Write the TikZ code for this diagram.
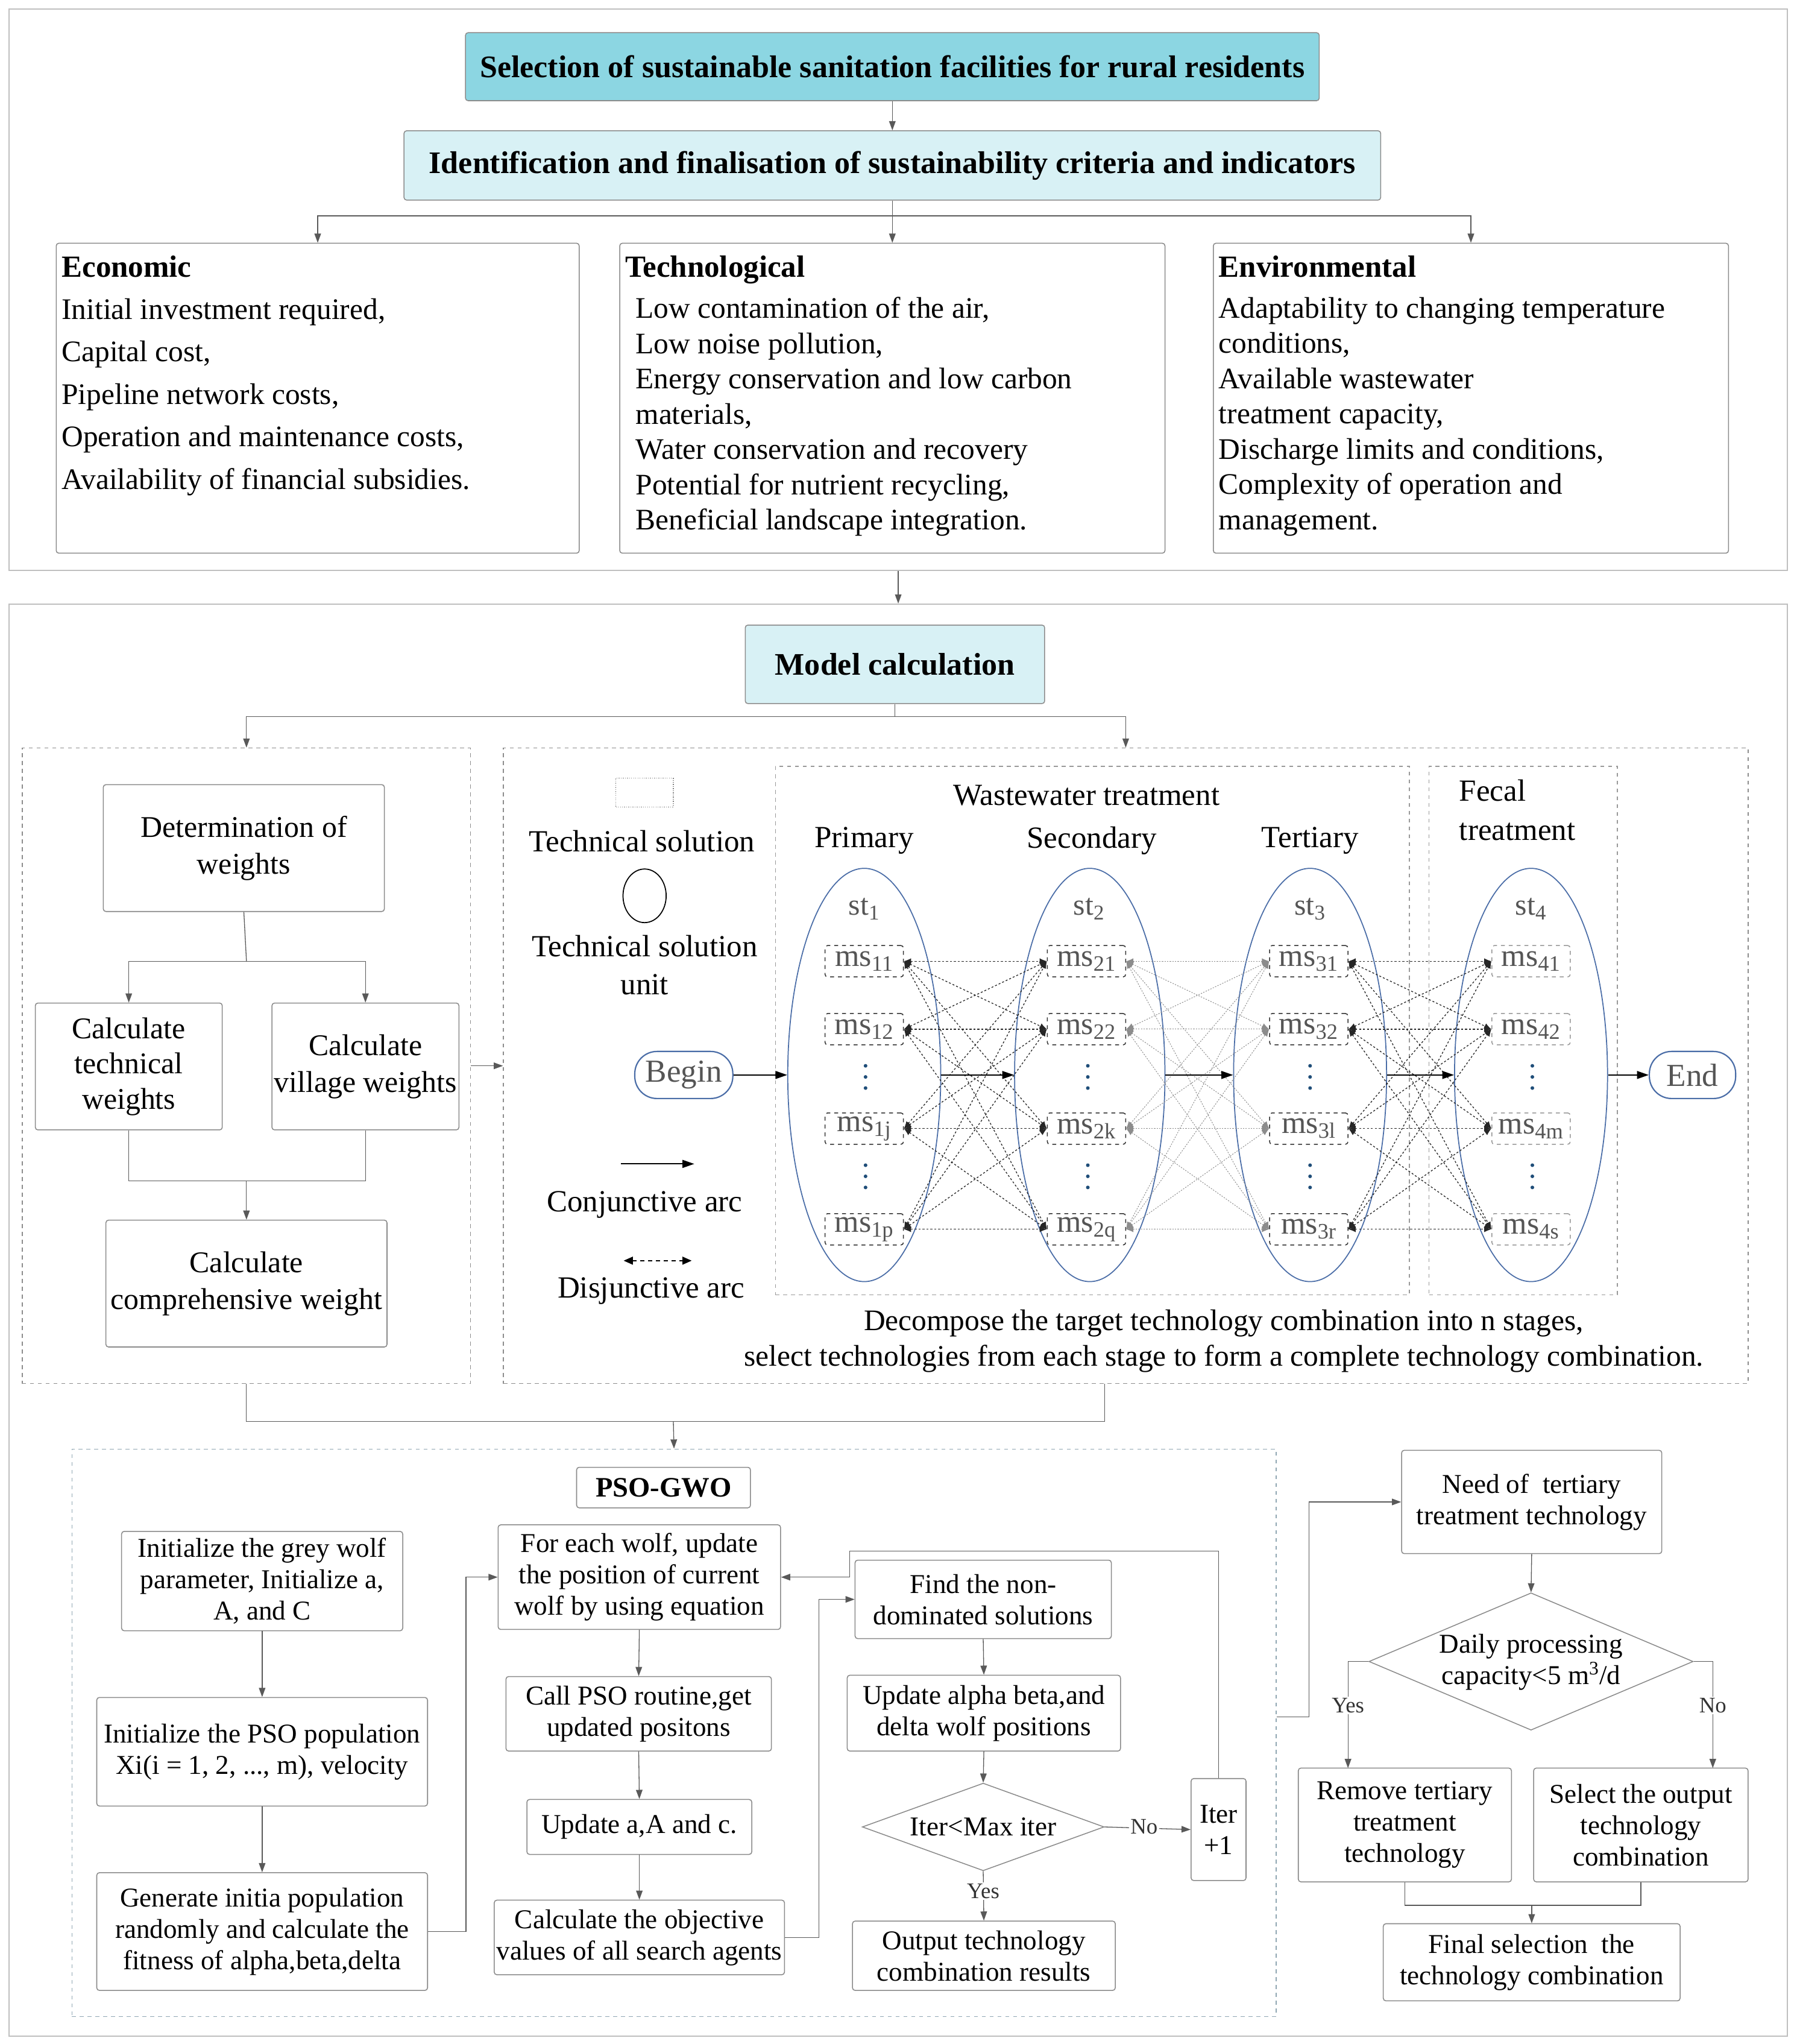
\documentclass[tikz,border=0pt]{standalone}
\usepackage{fontspec}
\setmainfont{Liberation Serif}
\usetikzlibrary{arrows.meta,shapes.geometric,calc}
\definecolor{teal1}{HTML}{8CD6E2}
\definecolor{cyan1}{HTML}{D8F1F5}
\definecolor{bord}{HTML}{8A8A8A}
\definecolor{ellc}{HTML}{4A6DA7}
\definecolor{dotc}{HTML}{1F4E79}
\definecolor{txtg}{HTML}{555555}
\definecolor{psoc}{HTML}{8FA6B2}
\newcommand\fsz[2]{\fontsize{#1pt}{#2pt}\selectfont}
\begin{document}
\begin{tikzpicture}[x=1pt,y=-1pt,
  arr/.style={-{Triangle[length=7pt,width=5pt]}, draw=black!65, line width=0.6pt},
  ln/.style={draw=black!65, line width=0.6pt},
  conj/.style={-{Triangle[length=9pt,width=6pt]}, draw=black, line width=1pt},
  box/.style={draw=bord, rounded corners=2pt, line width=0.7pt, align=center, inner sep=0pt, fill=white},
  panel/.style={draw=black!25, line width=1pt, inner sep=0pt},
  dbox/.style={draw=black!45, dashed, line width=0.6pt, inner sep=0pt},
  msbox/.style={dashed, rounded corners=2pt, line width=0.7pt, inner sep=0pt, minimum width=60, minimum height=24, text=txtg, font=\fsz{24}{26}},
  disj/.style={{Latex[length=5.5pt,width=4.5pt]}-{Latex[length=5.5pt,width=4.5pt]}, line width=0.6pt, dash pattern=on 1.5pt off 1.5pt},
  pill/.style={draw=ellc, line width=1pt, rounded corners=17pt, inner sep=0pt, text=txtg, font=\fsz{24.5}{26}},
  stell/.style={ellipse, draw=ellc, line width=0.8pt, inner sep=0pt, minimum width=117, minimum height=316},
  lbl/.style={fill=white, inner sep=1pt, font=\fsz{17}{18}, text=black!80},
  tx/.style={inner sep=0pt, align=center}]
\useasboundingbox (0,0) rectangle (1374,1563);
\fill[white] (0,0) rectangle (1374,1563);

% ---------- panels ----------
\node[panel, minimum width=1360, minimum height=429] (P1) at (687,221.5) {};
\node[panel, minimum width=1360, minimum height=1095] (P2) at (687,1009.5) {};
\draw[arr] (P1.south) -- (P2.north);

% ---------- top ----------
\node[box, fill=teal1, draw=black!45, font=\bfseries\fsz{24}{28}, minimum width=653, minimum height=52] (t1) at (682.5,51) {Selection of sustainable sanitation facilities for rural residents};
\node[box, fill=cyan1, draw=black!45, font=\bfseries\fsz{24}{28}, minimum width=747, minimum height=53] (t2) at (682.5,126.5) {Identification and finalisation of sustainability criteria and indicators};
\draw[arr] (t1.south) -- (t2.north);

\node[box, minimum width=400, minimum height=237] (eco) at (243,304.5) {};
\node[box, minimum width=417, minimum height=237] (tech) at (682.5,304.5) {};
\node[box, minimum width=394, minimum height=237] (env) at (1125,304.5) {};
\coordinate (j1) at (682.5,165);
\draw[ln] (t2.south) -- (j1);
\draw[arr] (j1) -| (eco.north);
\draw[arr] (j1) -- (tech.north);
\draw[arr] (j1) -| (env.north);

\node[anchor=base west, inner sep=0pt, font=\bfseries\fsz{23.5}{26}] (ecoh) at (47,212) {Economic};
\node[anchor=base west, inner sep=0pt, font=\bfseries\fsz{23.5}{26}] (techh) at (478,212) {Technological};
\node[anchor=base west, inner sep=0pt, font=\bfseries\fsz{23.5}{26}] (envh) at (932,212) {Environmental};
\node[anchor=north west, inner sep=0pt, align=left, font=\fsz{22.8}{32.5}] (ecot) at (47,228) {Initial investment required,\\Capital cost,\\Pipeline network costs,\\Operation and maintenance costs,\\Availability of financial subsidies.};
\node[anchor=north west, inner sep=0pt, align=left, font=\fsz{22.8}{27}] (techt) at (486,227) {Low contamination of the air,\\Low noise pollution,\\Energy conservation and low carbon\\materials,\\Water conservation and recovery\\Potential for nutrient recycling,\\Beneficial landscape integration.};
\node[anchor=north west, inner sep=0pt, align=left, font=\fsz{22.8}{27}] (envt) at (932,227) {Adaptability to changing temperature\\conditions,\\Available wastewater\\treatment capacity,\\Discharge limits and conditions,\\Complexity of operation and\\management.};

% ---------- model calculation ----------
\node[box, fill=cyan1, draw=black!45, font=\bfseries\fsz{24}{28}, minimum width=229, minimum height=60] (mc) at (684.5,508) {Model calculation};
\node[dbox, minimum width=343, minimum height=486] (L) at (188.5,815) {};
\node[dbox, minimum width=952, minimum height=486] (R) at (861,815) {};
\coordinate (j2) at (684.5,548);
\draw[ln] (mc.south) -- (j2);
\draw[arr] (j2) -| (L.north);
\draw[arr] (j2) -| (R.north);
\draw[arr] (L.east) -- (R.west);

% left weights
\node[box, font=\fsz{23}{28}, minimum width=215, minimum height=97] (det) at (186.5,648.5) {Determination of\\weights};
\node[box, font=\fsz{23}{27}, minimum width=143, minimum height=97] (ctech) at (98.5,815.5) {Calculate\\technical\\weights};
\node[box, font=\fsz{23}{28}, minimum width=143, minimum height=97] (cvil) at (279.5,815.5) {Calculate\\village weights};
\node[box, font=\fsz{23}{28}, minimum width=215, minimum height=97] (comp) at (188.5,981.5) {Calculate\\comprehensive weight};
\coordinate (j4) at (188.5,735);
\draw[ln] (det.south) -- (j4);
\draw[arr] (j4) -| (ctech.north);
\draw[arr] (j4) -| (cvil.north);
\coordinate (j5) at (188.5,903);
\draw[ln] (ctech.south) |- (j5) -| (cvil.south);
\draw[arr] (j5) -- (comp.north);

% legend
\node[draw=black!50, densely dotted, line width=0.6pt, inner sep=0pt, minimum width=44, minimum height=22] (legrect) at (493,606) {};
\node[tx, font=\fsz{23.5}{29}] (legts) at (491,643) {Technical solution};
\node[ellipse, draw, line width=0.8pt, inner sep=0pt, minimum width=33, minimum height=41] (legcirc) at (493,685) {};
\node[tx, font=\fsz{23.5}{29}] (legtsu) at (493,738) {Technical solution\\unit};
\coordinate (lca) at (475,890);
\coordinate (lcb) at (531,890);
\draw[conj] (lca) -- (lcb);
\node[tx, font=\fsz{23.5}{29}] (legca) at (493,921) {Conjunctive arc};
\coordinate (lda) at (477,964);
\coordinate (ldb) at (529,964);
\draw[{Triangle[length=7pt,width=6pt]}-{Triangle[length=7pt,width=6pt]}, dashed, line width=0.8pt] (lda) -- (ldb);
\node[tx, font=\fsz{23.5}{29}] (legda) at (498,987) {Disjunctive arc};

% stage frames
\node[dbox, draw=black!40, minimum width=485, minimum height=404] (ww) at (835.5,788) {};
\node[dbox, draw=black!40, minimum width=144, minimum height=404] (fec) at (1165,788) {};
\node[tx, font=\fsz{23.5}{29}] (wwt) at (831,608) {Wastewater treatment};
\node[anchor=north west, inner sep=0pt, align=left, font=\fsz{23.5}{30}] (fect) at (1116,596) {Fecal\\treatment};
\node[tx, font=\fsz{23.5}{29}] (prim) at (661,643) {Primary};
\node[tx, font=\fsz{23.5}{29}] (seco) at (835,643) {Secondary};
\node[tx, font=\fsz{23.5}{29}] (tert) at (1002,643) {Tertiary};

% ellipses
\node[stell] (st1) at (661,822) {};
\node[stell, minimum width=115] (st2) at (833.5,822) {};
\node[stell] (st3) at (1002,822) {};
\node[stell] (st4) at (1171,822) {};
\foreach \s/\x in {1/661,2/833,3/1002,4/1171}{
  \node[tx, text=txtg, font=\fsz{23}{25}] (stl\s) at (\x,695) {st\textsubscript{\s}};
}

% ms boxes
\foreach \s/\x/\a/\b/\c/\d/\col in {1/661/11/12/1j/1p/black!80, 2/831/21/22/2k/2q/black!80, 3/1001/31/32/3l/3r/black!80, 4/1171/41/42/4m/4s/black!40}{
  \node[msbox, draw=\col] (m\s1) at (\x,735) {ms\textsubscript{\a}};
  \node[msbox, draw=\col] (m\s2) at (\x,787) {ms\textsubscript{\b}};
  \node[msbox, draw=\col] (m\s3) at (\x,863) {ms\textsubscript{\c}};
  \node[msbox, draw=\col] (m\s4) at (\x,940) {ms\textsubscript{\d}};
  \foreach \y in {815,823.5,832,891,899.5,908}{
    \fill[dotc] (\x+1,\y) circle (1.4pt);
  }
}

% disjunctive arcs
\foreach \s/\t in {1/2,3/4}{
  \foreach \a in {1,...,4}{
    \foreach \b in {1,...,4}{
      \draw[disj, draw=black!85] (m\s\a.east) -- (m\t\b.west);
    }
  }
}
\foreach \a in {1,...,4}{
  \foreach \b in {1,...,4}{
    \draw[disj, draw=black!45, line width=0.45pt, dash pattern=on 1pt off 1pt] (m2\a.east) -- (m3\b.west);
  }
}

% conjunctive arcs
\node[pill, minimum width=75, minimum height=36] (begin) at (523,822) {Begin};
\node[pill, minimum width=66, minimum height=36] (endn) at (1294.5,822) {End};
\draw[conj] (begin.east) -- (st1.west);
\draw[conj, line width=0.8pt] (st1.east) -- (st2.west);
\draw[conj] (st2.east) -- (st3.west);
\draw[conj] (st3.east) -- (st4.west);
\draw[conj] (st4.east) -- (endn.west);

\node[tx, font=\fsz{22.8}{27}] (decomp) at (936,1025.5) {Decompose the target technology combination into n stages,\\select technologies from each stage to form a complete technology combination.};

% ---------- PSO-GWO ----------
\node[dbox, draw=psoc, minimum width=921, minimum height=434] (pso) at (515.5,1325) {};
\coordinate (j3) at (515,1087);
\coordinate (rb) at (845,1058);
\draw[ln] (L.south) |- (j3);
\draw[ln] (j3) -| (rb);
\draw[arr] (j3) -- (pso.north);

\node[box, font=\bfseries\fsz{21.5}{24}, minimum width=133, minimum height=31] (psol) at (507.5,1137.5) {PSO-GWO};

\node[box, font=\fsz{20.8}{24}, minimum width=215, minimum height=76] (g1) at (200.5,1209) {Initialize the grey wolf\\parameter, Initialize a,\\A, and C};
\node[box, font=\fsz{20.8}{24}, minimum width=253, minimum height=83] (g2) at (200.5,1339.5) {Initialize the PSO population\\Xi(i = 1, 2, ..., m), velocity};
\node[box, font=\fsz{20.8}{24}, minimum width=253, minimum height=90] (g3) at (200.5,1477) {Generate initia population\\randomly and calculate the\\fitness of alpha,beta,delta};
\draw[arr] (g1.south) -- (g2.north);
\draw[arr] (g2.south) -- (g3.north);

\node[box, font=\fsz{20.8}{24}, minimum width=216, minimum height=80] (h1) at (489,1206) {For each wolf, update\\the position of current\\wolf by using equation};
\node[box, font=\fsz{20.8}{24}, minimum width=203, minimum height=57] (h2) at (488.5,1310.5) {Call PSO routine,get\\updated positons};
\node[box, font=\fsz{20.8}{24}, minimum width=172, minimum height=42] (h3) at (489,1397) {Update a,A and c.};
\node[box, font=\fsz{20.8}{24}, minimum width=222, minimum height=57] (h4) at (489,1481.5) {Calculate the objective\\values of all search agents};
\draw[arr] (h1.south) -- (h2.north);
\draw[arr] (h2.south) -- (h3.north);
\draw[arr] (h3.south) -- (h4.north);
\draw[arr] (g3.east) -- ++(29,0) |- (h1.west);

\node[box, font=\fsz{20.8}{24}, minimum width=196, minimum height=60] (k1) at (752,1223) {Find the non-\\dominated solutions};
\node[box, font=\fsz{20.8}{24}, minimum width=209, minimum height=58] (k2) at (752.5,1310) {Update alpha beta,and\\delta wolf positions};
\node[diamond, draw=bord, line width=0.7pt, inner sep=0pt, minimum width=185, minimum height=67, fill=white] (k3) at (752,1397) {};
\node[tx, font=\fsz{20.8}{24}] (k3t) at (752,1397) {Iter<Max iter};
\node[box, font=\fsz{20.8}{24}, minimum width=201, minimum height=53] (k4) at (752.5,1495.5) {Output technology\\combination results};
\node[box, font=\fsz{20.8}{24}, minimum width=42, minimum height=78] (iter) at (932,1399) {Iter\\+1};
\draw[arr] (h4.east) -- ++(26,0) |- (k1.west);
\draw[arr] (k1.south) -- (k2.north);
\draw[arr] (k2.south) -- (k3.north);
\draw[arr] (k3.south) -- (k4.north);
\node[lbl] (yes1) at (752,1446) {Yes};
\draw[arr] (k3.east) -- (iter.west);
\node[lbl] (no1) at (875,1397) {No};
\coordinate (fb) at (650,1186);
\draw[arr] (iter.north) |- (fb) |- (h1.east);

% ---------- right decision ----------
\node[box, font=\fsz{20.8}{24}, minimum width=199, minimum height=79] (r1) at (1171.5,1148.5) {Need of\ \ tertiary\\treatment technology};
\node[diamond, draw=bord, line width=0.7pt, inner sep=0pt, minimum width=248, minimum height=105, fill=white] (r2) at (1171,1270.5) {};
\node[tx, font=\fsz{20.8}{24}] (r2t) at (1171,1271) {Daily processing\\capacity<5 m\textsuperscript{3}/d};
\node[box, font=\fsz{20.8}{24}, minimum width=163, minimum height=87] (r3) at (1074.5,1395.5) {Remove tertiary\\treatment\\technology};
\node[box, font=\fsz{20.8}{24}, minimum width=164, minimum height=87] (r4) at (1255,1395.5) {Select the output\\technology\\combination};
\node[box, font=\fsz{20.8}{24}, minimum width=227, minimum height=59] (r5) at (1171.5,1500.5) {Final selection\ \ the\\technology combination};
\draw[arr] ([yshift=12pt]pso.east) -- ++(25,0) |- (r1.west);
\draw[arr] (r1.south) -- (r2.north);
\coordinate (yx) at (1031,1352);
\coordinate (nx) at (1310,1352);
\draw[arr] (r2.west) -| (yx);
\draw[arr] (r2.east) -| (nx);
\node[lbl] (yes2) at (1031,1304) {Yes};
\node[lbl] (no2) at (1310,1304) {No};
\coordinate (jr) at (1171.5,1457);
\draw[ln] (r3.south) |- (jr) -| (r4.south);
\draw[arr] (jr) -- (r5.north);
\end{tikzpicture}
\end{document}
